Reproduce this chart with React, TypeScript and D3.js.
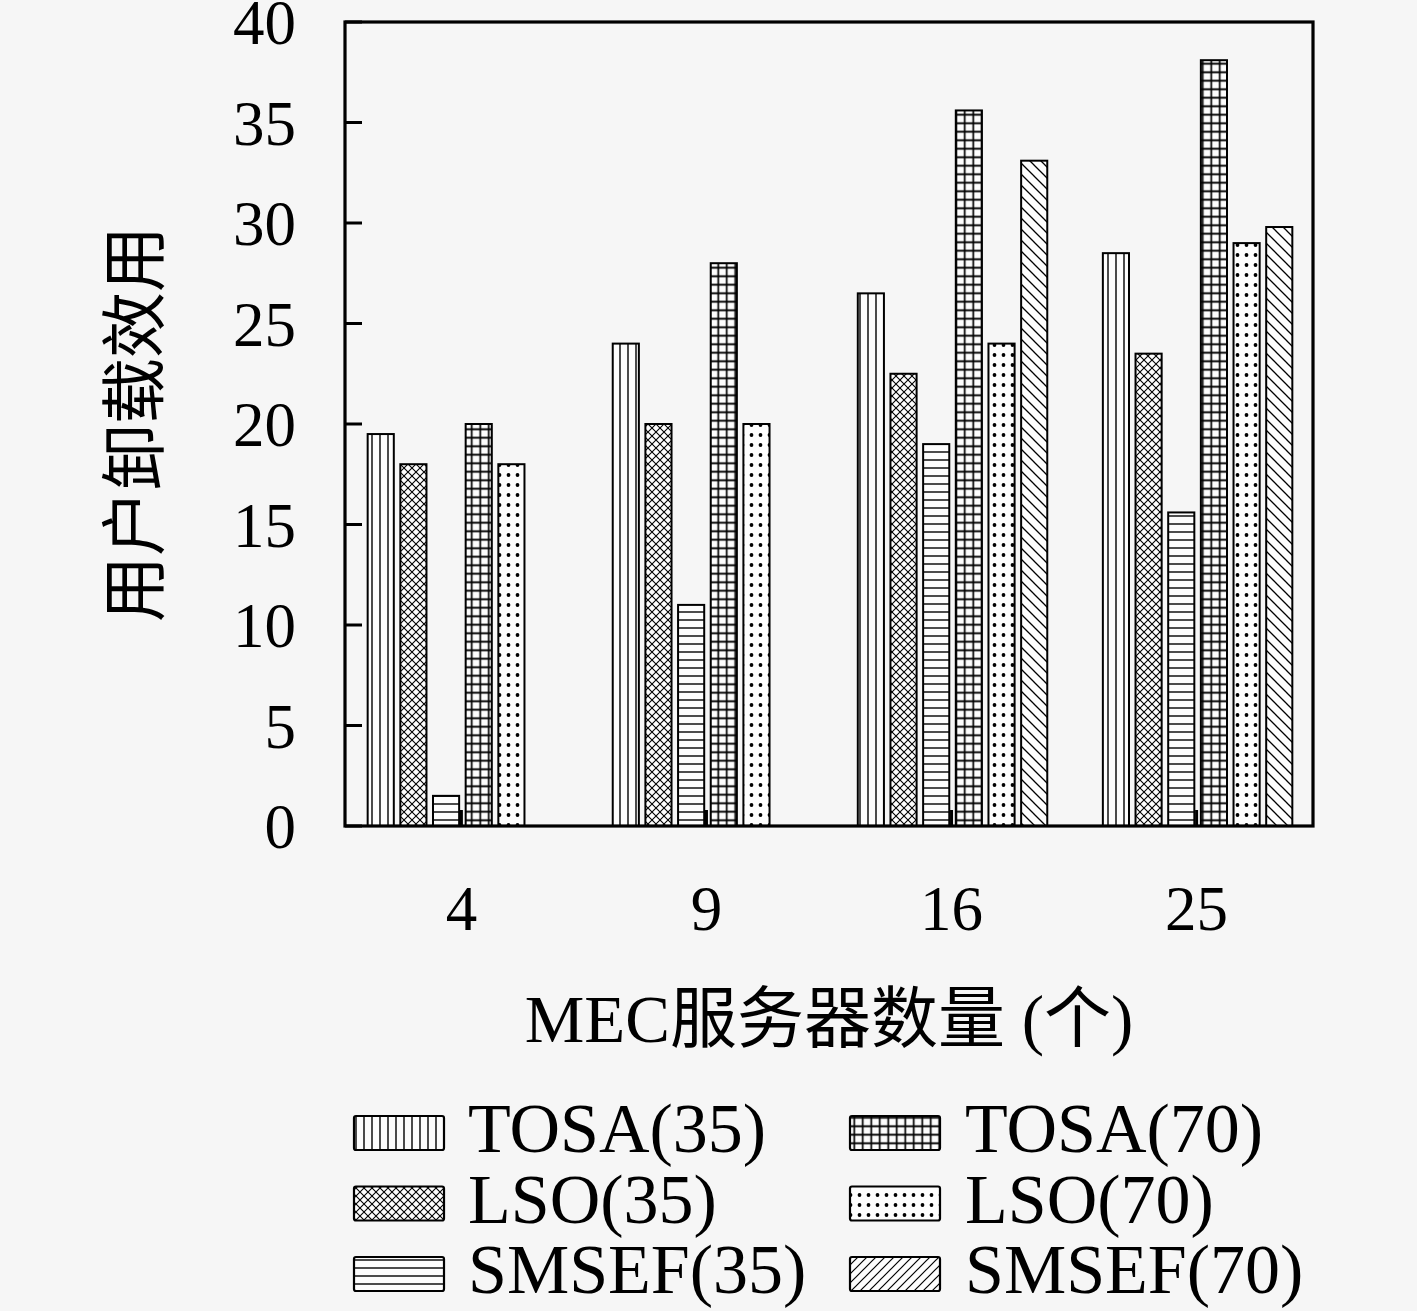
import React from 'react';
import * as d3 from 'd3';

const categories = ['4', '9', '16', '25'];
const seriesNames = ['TOSA(35)', 'LSO(35)', 'SMSEF(35)', 'TOSA(70)', 'LSO(70)', 'SMSEF(70)'];
const tosa35 = [19.5, 24.0, 26.5, 28.5];
const lso35 = [18.0, 20.0, 22.5, 23.5];
const smsef35 = [1.5, 11.0, 19.0, 15.6];
const tosa70 = [20.0, 28.0, 35.6, 38.1];
const lso70 = [18.0, 20.0, 24.0, 29.0];
const smsef70 = [0, 0, 33.1, 29.8];
const yTicks = [0, 5, 10, 15, 20, 25, 30, 35, 40];

const seriesValues = [tosa35, lso35, smsef35, tosa70, lso70, smsef70];
const patternIds = ['pVert', 'pCross', 'pHoriz', 'pGrid', 'pDots', 'pBack'];
const legendPatternIds = ['pVert', 'pCross', 'pHoriz', 'pGrid', 'pDots', 'pFwd'];

const W = 1417;
const H = 1311;
const L = 345, R = 1313, T = 22, B = 826;
const SERIF = '"Liberation Serif", "DejaVu Serif", "Noto Sans CJK SC", serif';

export default function App() {
  const x = d3.scalePoint<string>().domain(categories).range([L, R]).padding(0.475);
  const inner = d3.scaleBand<string>().domain(seriesNames).range([-97, 99]).paddingInner(0.2).paddingOuter(0.1);
  const y = d3.scaleLinear().domain([0, 40]).range([B, T]);

  return (
    <svg width={W} height={H} style={{ position: 'absolute', left: 0, top: 0 }} xmlns="http://www.w3.org/2000/svg">
      <defs>
        <pattern id="pVert" patternUnits="userSpaceOnUse" width="8" height="8">
          <line x1="4" y1="0" x2="4" y2="8" stroke="#000" strokeWidth="1.4" />
        </pattern>
        <pattern id="pHoriz" patternUnits="userSpaceOnUse" width="8" height="8">
          <line x1="0" y1="4" x2="8" y2="4" stroke="#000" strokeWidth="1.4" />
        </pattern>
        <pattern id="pCross" patternUnits="userSpaceOnUse" width="8" height="8">
          <path d="M0,0 L8,8 M8,0 L0,8" stroke="#000" strokeWidth="1.1" fill="none" />
        </pattern>
        <pattern id="pGrid" patternUnits="userSpaceOnUse" width="8.5" height="8.5">
          <path d="M4.25,0 L4.25,8.5 M0,4.25 L8.5,4.25" stroke="#000" strokeWidth="1.7" fill="none" />
        </pattern>
        <pattern id="pDots" patternUnits="userSpaceOnUse" width="9" height="10">
          <circle cx="4.5" cy="5" r="1.9" fill="#000" />
        </pattern>
        <pattern id="pBack" patternUnits="userSpaceOnUse" width="11" height="11">
          <path d="M-2,-2 L13,13 M-2,9 L2,13 M9,-2 L13,2" stroke="#000" strokeWidth="1.3" fill="none" />
        </pattern>
        <pattern id="pFwd" patternUnits="userSpaceOnUse" width="9" height="9">
          <path d="M-2,11 L11,-2 M-2,2 L2,-2 M7,11 L11,7" stroke="#000" strokeWidth="1.2" fill="none" />
        </pattern>
      </defs>
      <rect x={0} y={0} width={W} height={H} fill="#f6f6f6" />

      {/* bars */}
      {seriesNames.map((s, si) =>
        categories.map((c, ci) => {
          const v = seriesValues[si][ci];
          if (v <= 0) return null;
          const bx = (x(c) as number) + (inner(s) as number);
          const bw = inner.bandwidth();
          return (
            <g key={s + c}>
              <rect x={bx} y={y(v)} width={bw} height={B - y(v)} fill="#fdfdfd" />
              <rect x={bx} y={y(v)} width={bw} height={B - y(v)} fill={`url(#${patternIds[si]})`} stroke="#000" strokeWidth={2} />
            </g>
          );
        })
      )}

      {/* frame */}
      <rect x={L} y={T} width={R - L} height={B - T} fill="none" stroke="#000" strokeWidth={3.2} />

      {/* y ticks */}
      {yTicks.map((t) => (
        <g key={t}>
          <line x1={L} x2={L + 17} y1={y(t)} y2={y(t)} stroke="#000" strokeWidth={3} />
          <text x={296} y={y(t) + 22} textAnchor="end" fontFamily={SERIF} fontSize={63} fill="#000">{t}</text>
        </g>
      ))}

      {/* x ticks */}
      {categories.map((c) => (
        <g key={c}>
          <line x1={x(c)} x2={x(c)} y1={B} y2={B - 16} stroke="#000" strokeWidth={3} />
          <text x={x(c)} y={930} textAnchor="middle" fontFamily={SERIF} fontSize={63} fill="#000">{c}</text>
        </g>
      ))}

      {/* axis titles */}
      <text x={(L + R) / 2} y={1042} textAnchor="middle" fontFamily={SERIF} fontSize={67} fill="#000">MEC服务器数量 (个)</text>
      <text transform={`translate(158, ${(T + B) / 2}) rotate(-90)`} textAnchor="middle" fontFamily={SERIF} fontSize={66} fill="#000">用户卸载效用</text>

      {/* legend */}
      {seriesNames.map((s, i) => {
        const col = Math.floor(i / 3);
        const row = i % 3;
        const sx = col === 0 ? 354 : 850;
        const tx = col === 0 ? 468 : 965;
        const base = 1152 + row * 70.5;
        return (
          <g key={s}>
            <rect x={sx} y={base - 36} width={90} height={34} fill="#fdfdfd" />
            <rect x={sx} y={base - 36} width={90} height={34} rx={2} fill={`url(#${legendPatternIds[i]})`} stroke="#000" strokeWidth={2.2} />
            <text x={tx} y={base} fontFamily={SERIF} fontSize={70} fill="#000">{s}</text>
          </g>
        );
      })}
    </svg>
  );
}
